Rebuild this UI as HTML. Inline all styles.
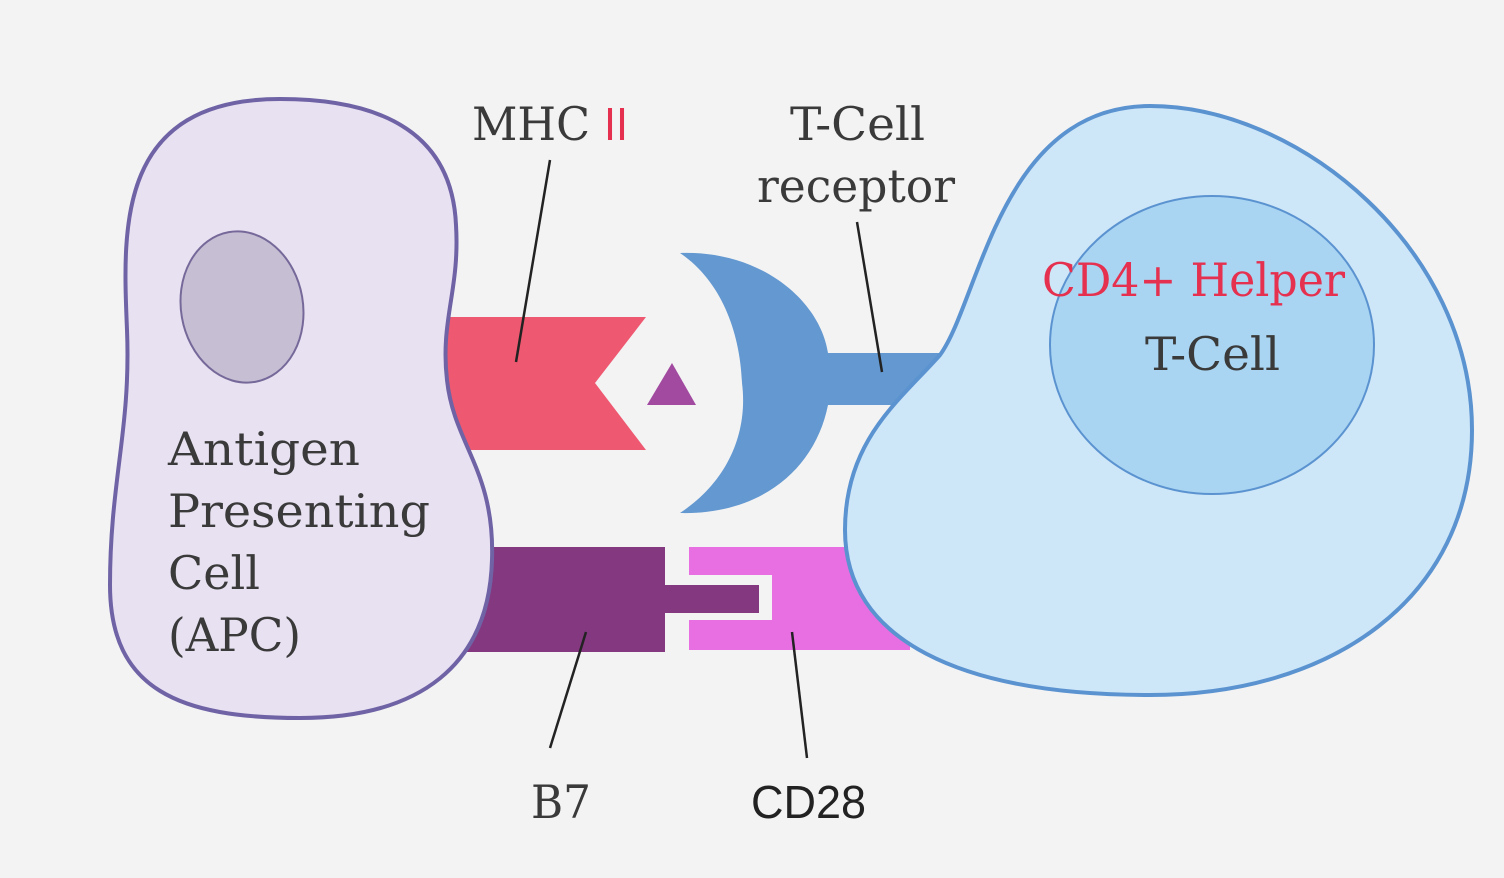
<!DOCTYPE html>
<html><head><meta charset="utf-8"><style>
html,body{margin:0;padding:0;background:#f3f3f4;}
svg{display:block}
</style></head><body>
<svg width="1504" height="878" viewBox="0 0 1504 878" xmlns="http://www.w3.org/2000/svg">
<rect width="1504" height="878" fill="#f3f3f4"/>
<!-- red MHC -->
<polygon points="440,317 646,317 595,383 646,450 440,450" fill="#ee5870"/>
<polygon points="672,363 696,405 647,405" fill="#a14aa0"/>
<!-- B7 -->
<rect x="440" y="547" width="225" height="105" fill="#843880"/>
<rect x="660" y="585" width="99" height="28" fill="#843880"/>
<!-- CD28 -->
<path d="M689,547 H910 V650 H689 V620 H772 V575 H689 Z" fill="#e86fe2"/>
<!-- APC cell -->
<path d="M280,99 C385,99 452,135 456,225 C460,290 440,320 447,380 C454,445 495,470 492,560 C489,665 420,718 300,718 C180,718 110,690 110,585 C110,480 131,430 127,330 C123,230 115,99 280,99 Z" fill="#e8e1f1" stroke="#6f63a6" stroke-width="4"/>
<ellipse cx="242" cy="307" rx="61" ry="76" fill="#c6bfd4" stroke="#76699a" stroke-width="2" transform="rotate(-10 242 307)"/>
<!-- TCR crescent -->
<path d="M680,253 C760,250 820,300 828,353 H950 V405 H828 C815,470 760,515 680,513 C730,480 748,430 742,383 C740,330 720,280 680,253 Z" fill="#6398d0"/>
<!-- T cell -->
<path d="M1150,106 C1300,106 1472,250 1472,430 C1472,600 1330,695 1150,695 C960,695 845,640 845,530 C845,440 900,400 940,355 C980,300 1000,106 1150,106 Z" fill="#cde6f8" stroke="#5b93d0" stroke-width="4"/>
<ellipse cx="1212" cy="345" rx="162" ry="149" fill="#a9d5f3" stroke="#5b93d0" stroke-width="2"/>
<!-- lines -->
<g stroke="#222" stroke-width="2.5" fill="none">
<line x1="550" y1="160" x2="516" y2="362"/>
<line x1="857" y1="222" x2="882" y2="372"/>
<line x1="586" y1="632" x2="550" y2="748"/>
<line x1="792" y1="632" x2="807" y2="758"/>
</g>
<!-- text -->
<g font-family="'DejaVu Serif','Liberation Serif',serif" fill="#3a3a3a" font-size="46">
<text x="472" y="140" textLength="118" lengthAdjust="spacingAndGlyphs">MHC</text>
<text x="604" y="140" fill="#e5304f" textLength="24" lengthAdjust="spacingAndGlyphs" font-family="'Liberation Sans',sans-serif">II</text>
<text x="790" y="140" textLength="135" lengthAdjust="spacingAndGlyphs">T-Cell</text>
<text x="757" y="202" textLength="198" lengthAdjust="spacingAndGlyphs">receptor</text>
<text x="168" y="465" textLength="192" lengthAdjust="spacingAndGlyphs">Antigen</text>
<text x="168" y="527" textLength="262" lengthAdjust="spacingAndGlyphs">Presenting</text>
<text x="168" y="589" textLength="92" lengthAdjust="spacingAndGlyphs">Cell</text>
<text x="168" y="651" textLength="133" lengthAdjust="spacingAndGlyphs">(APC)</text>
<text x="531" y="818" textLength="60" lengthAdjust="spacingAndGlyphs">B7</text>
<text x="1042" y="296" fill="#e5304f" textLength="303" lengthAdjust="spacingAndGlyphs">CD4+ Helper</text>
<text x="1145" y="370" textLength="135" lengthAdjust="spacingAndGlyphs">T-Cell</text>
</g>
<text x="751" y="818" font-family="'Liberation Sans',sans-serif" font-size="46" fill="#222" textLength="115" lengthAdjust="spacingAndGlyphs">CD28</text>
</svg>
</body></html>
